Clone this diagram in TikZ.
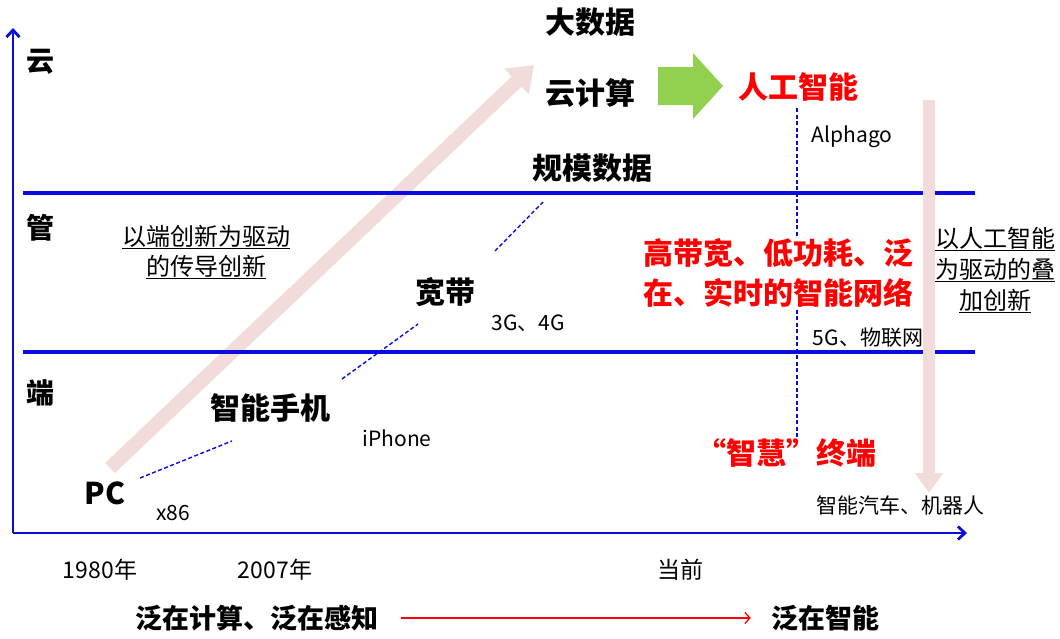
\documentclass[tikz,border=0pt]{standalone}
\usepackage{fontspec}
\setmainfont{Noto Sans CJK SC}
\usetikzlibrary{arrows.meta}
\definecolor{axisblue}{RGB}{10,10,225}
\definecolor{pinkarrow}{RGB}{242,220,219}
\definecolor{greenarrow}{RGB}{146,208,80}
\definecolor{hotred}{RGB}{255,0,0}
\tikzset{
  axisline/.style={draw=axisblue, line width=2.8pt},
  tierline/.style={draw=axisblue, line width=3.2pt},
  bigtext/.style={font=\bfseries\fontsize{30}{34}\selectfont, inner sep=0pt},
  tiertext/.style={font=\bfseries\fontsize{28}{30}\selectfont, inner sep=0pt},
  smalltext/.style={font=\fontsize{21}{24}\selectfont, inner sep=0pt},
  yeartext/.style={font=\fontsize{23}{26}\selectfont, inner sep=0pt},
  notetext/.style={font=\fontsize{24}{30}\selectfont, align=center, inner sep=0pt},
  redtext/.style={font=\bfseries\fontsize{30}{40}\selectfont, text=hotred, align=center},
  thindash/.style={draw=axisblue, line width=1.4pt, dash pattern=on 4pt off 2.5pt},
  pinkshaft/.style={draw=pinkarrow},
}
\begin{document}
\begin{tikzpicture}[x=1pt, y=-1pt]
\useasboundingbox (0,0) rectangle (1060,638);

% pink diagonal growth arrow
\coordinate (pa1) at (110,468);
\coordinate (pa2) at (534,65);
\draw[pinkshaft, line width=14pt, -{Triangle[length=24pt,width=34pt]}] (pa1) -- (pa2);

% tier lines
\coordinate (t1a) at (23,193); \coordinate (t1b) at (975,193);
\coordinate (t2a) at (23,352); \coordinate (t2b) at (975,352);
\draw[tierline] (t1a) -- (t1b);
\draw[tierline] (t2a) -- (t2b);

% axes
\coordinate (O) at (13,533);
\coordinate (ytop) at (13,28);
\coordinate (xend) at (967,533);
\draw[axisline, -{Straight Barb[length=7pt,width=13pt]}] (O) -- (ytop);
\draw[axisline, -{Straight Barb[length=7pt,width=13pt]}] (O) -- (xend);

% tier labels
\node[tiertext] (yun) at (40,62) {云};
\node[tiertext] (guan) at (40,228) {管};
\node[tiertext] (duan) at (40,393) {端};

% top texts
\node[bigtext] (dsj) at (590,22) {大数据};
\node[bigtext] (yjs) at (590,93) {云计算};
\node[bigtext] (gmsj) at (592,168) {规模数据};

% green arrow
\fill[greenarrow] (658,67) -- (693,67) -- (693,53) -- (723,86) -- (693,119) -- (693,105) -- (658,105) -- cycle;

% vertical dashed line (drawn under red text)
\coordinate (vd1) at (797,108);
\coordinate (vd2) at (797,438);
\draw[thindash, line width=1.2pt] (vd1) -- (vd2);

\node[bigtext, text=hotred] (rgzn) at (798,87) {人工智能};
\node[smalltext] (alphago) at (852,137) {Alphago};

\node[redtext, fill=white, inner sep=2pt] (net) at (778,273) {高带宽、低功耗、泛\\在、实时的智能网络};
\node[smalltext] (g5) at (868,338) {5G、物联网};

% notes
\node[notetext] (lnote) at (206,252) {\underline{以端创新为驱动}\\\underline{的传导创新}};
\node[notetext, font=\fontsize{24}{31}\selectfont] (rnote) at (995,270) {\underline{以人工智能}\\\underline{为驱动的叠}\\\underline{加创新}};

% right pink arrow
\coordinate (pb1) at (929,100);
\coordinate (pb2) at (929,493);
\draw[pinkshaft, line width=12pt, -{Triangle[length=20pt,width=27pt]}] (pb1) -- (pb2);

% evolution texts
\node[bigtext] (kd) at (445,292) {宽带};
\node[smalltext] (g34) at (528,323) {3G、4G};
\node[bigtext] (znsj) at (270,408) {智能手机};
\node[smalltext] (iphone) at (397,438) {iPhone};
\node[bigtext] (pc) at (105,493) {PC};
\node[smalltext] (x86) at (173,513) {x86};

% dashed steps
\coordinate (s1a) at (140,478); \coordinate (s1b) at (232,441);
\coordinate (s2a) at (342,379); \coordinate (s2b) at (418,324);
\coordinate (s3a) at (495,251); \coordinate (s3b) at (543,202);
\draw[thindash] (s1a) -- (s1b);
\draw[thindash] (s2a) -- (s2b);
\draw[thindash] (s3a) -- (s3b);

\node[bigtext, text=hotred] (zh) at (786,453) {“智慧”终端};
\node[smalltext] (car) at (900,505) {智能汽车、机器人};

% time labels
\node[yeartext] (y1980) at (100,570) {1980年};
\node[yeartext] (y2007) at (275,570) {2007年};
\node[yeartext] (now) at (680,570) {当前};

% bottom
\node[bigtext, font=\bfseries\fontsize{27}{30}\selectfont] (fzjs) at (257,618) {泛在计算、泛在感知};
\node[bigtext, font=\bfseries\fontsize{27}{30}\selectfont] (fzzn) at (825,618) {泛在智能};
\draw[hotred, line width=1.3pt, -{Straight Barb[length=5pt,width=11pt]}, shorten <=22pt, shorten >=20pt] (fzjs.east) -- (fzzn.west);
\end{tikzpicture}
\end{document}
